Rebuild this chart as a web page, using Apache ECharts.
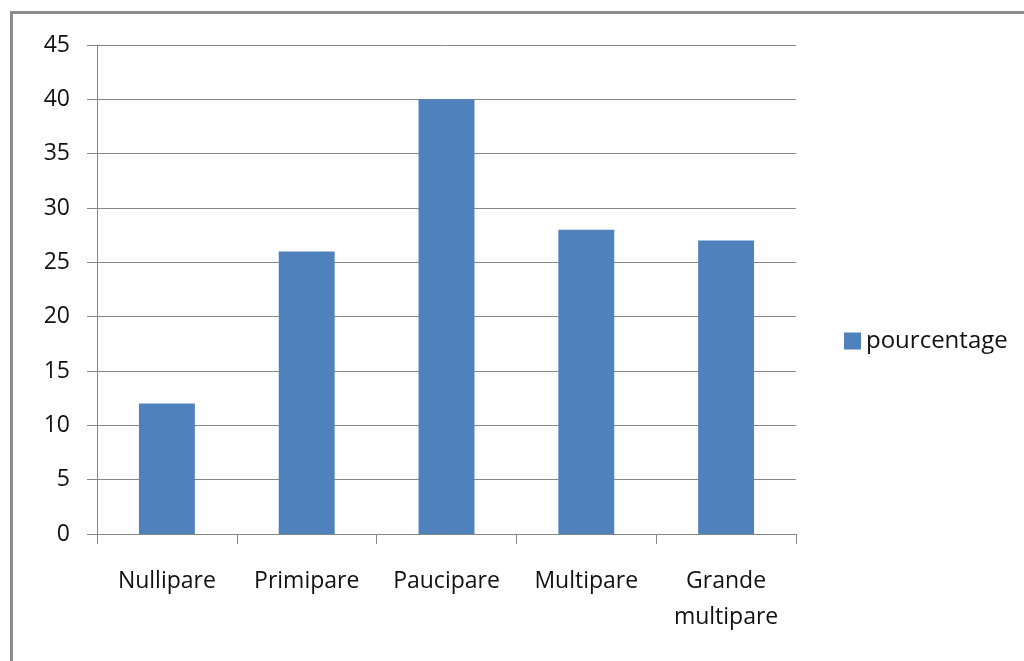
<!DOCTYPE html>
<html>
<head>
<meta charset="utf-8">
<script src="https://cdn.jsdelivr.net/npm/echarts@6/dist/echarts.min.js"></script>
<style>
  html, body { margin: 0; padding: 0; background: #fff; }
  #frame { position: absolute; left: 10px; top: 11px; width: 1014px; height: 650px;
           border-left: 3px solid #8c8c8c; border-top: 3px solid #8c8c8c; box-sizing: border-box; }
  #main { position: absolute; left: 0; top: 0; width: 1024px; height: 661px; }
</style>
</head>
<body>
<div id="frame"></div>
<div id="main"></div>
<script>
// categories and values
let categories = ['Nullipare', 'Primipare', 'Paucipare', 'Multipare', 'Grande\nmultipare'];
let pourcentage = [12, 26, 40, 28, 27];

let font = '"Open Sans", "Noto Sans", sans-serif';
let grey = '#868686';

let myChart = echarts.init(document.getElementById('main'));
let option = {
    animation: false,
    grid: { left: 97, right: 228, top: 45, bottom: 127 },
    legend: {
        data: ['pourcentage'],
        orient: 'vertical',
        left: 839,
        top: 324,
        itemWidth: 17,
        itemHeight: 17,
        itemGap: 6,
        icon: 'rect',
        textStyle: { fontFamily: font, fontSize: 24, color: '#111' }
    },
    xAxis: {
        type: 'category',
        data: categories,
        axisLine: { lineStyle: { color: grey, width: 1 } },
        axisTick: { show: true, length: 10, lineStyle: { color: grey } },
        axisLabel: { fontFamily: font, fontSize: 23, color: '#111', margin: 29, lineHeight: 36 }
    },
    yAxis: {
        type: 'value',
        min: 0, max: 45, interval: 5,
        axisLine: { show: true, lineStyle: { color: grey, width: 1 } },
        axisTick: { show: true, length: 10, lineStyle: { color: grey } },
        splitLine: { lineStyle: { color: grey, width: 1 } },
        axisLabel: { fontFamily: font, fontSize: 23, color: '#111', margin: 27 }
    },
    series: [{
        name: 'pourcentage',
        type: 'bar',
        data: pourcentage,
        barWidth: '40%',
        itemStyle: { color: '#4F81BD' }
    }]
};
myChart.setOption(option);
</script>
</body>
</html>
